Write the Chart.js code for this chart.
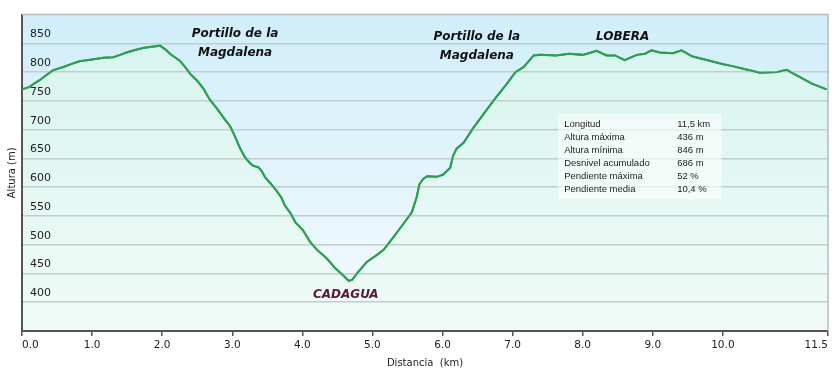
<!DOCTYPE html>
<html>
<head>
<meta charset="utf-8">
<script src="https://cdn.jsdelivr.net/npm/chart.js@4.4.1/dist/chart.umd.min.js"></script>
<style>
  html, body { margin: 0; padding: 0; background: #fff; }
</style>
</head>
<body>
<canvas id="perfil" width="836" height="372"></canvas>
<script>
// perfil de altura: distancia (km) / altura (m)
const distancias = [0.00, 0.10, 0.25, 0.35, 0.44, 0.59, 0.70, 0.82, 1.00, 1.16, 1.30, 1.40, 1.49, 1.60, 1.73, 1.85, 1.97,
  2.06, 2.11, 2.25, 2.32, 2.40, 2.50, 2.59, 2.68, 2.78, 2.88, 2.97, 3.04, 3.11, 3.18, 3.25, 3.30, 3.37, 3.42, 3.47,
  3.55, 3.63, 3.70, 3.75, 3.83, 3.90, 4.01, 4.11, 4.21, 4.35, 4.47, 4.56, 4.62, 4.66, 4.71, 4.80, 4.92, 5.06, 5.16,
  5.30, 5.44, 5.56, 5.63, 5.67, 5.72, 5.78, 5.92, 6.01, 6.11, 6.15, 6.20, 6.30, 6.44, 6.59, 6.73, 6.92, 7.04, 7.16,
  7.30, 7.40, 7.62, 7.81, 8.00, 8.12, 8.20, 8.34, 8.46, 8.60, 8.77, 8.89, 8.98, 9.10, 9.29, 9.41, 9.57, 9.77, 9.99,
  10.15, 10.29, 10.53, 10.77, 10.91, 11.06, 11.27, 11.48];
const alturas = [770, 774, 786, 795, 803, 809, 814, 819, 822, 825, 826, 830, 834, 838, 842, 844, 846,
  838, 832, 820, 810, 797, 785, 771, 752, 737, 720, 706, 688, 668, 652, 642, 637, 635, 628, 617,
  606, 594, 582, 568, 555, 539, 525, 505, 491, 476, 459, 449, 442, 437, 439, 453, 470, 482, 491,
  513, 536, 556, 582, 605, 614, 619, 618, 622, 634, 654, 667, 677, 703, 728, 751, 780, 800, 809,
  829, 830, 829, 832, 830, 834, 837, 829, 829, 821, 830, 832, 838, 834, 833, 838, 827, 821, 814,
  810, 806, 799, 800, 804, 794, 780, 770];

const xTicks = [0, 1, 2, 3, 4, 5, 6, 7, 8, 9, 10, 11.5];
const yTicks = [400, 450, 500, 550, 600, 650, 700, 750, 800, 850];

const estadNombres = ['Longitud', 'Altura máxima', 'Altura mínima', 'Desnivel acumulado', 'Pendiente máxima', 'Pendiente media'];
const estadValores = ['11,5 km', '436 m', '846 m', '686 m', '52 %', '10,4 %'];

// rotulos de lugares, anclados en km / m
const rotuloTextos = [['Portillo de la', 'Magdalena'], ['Portillo de la', 'Magdalena'], ['LOBERA'], ['CADAGUA']];
const rotuloKm = [3.04, 6.49, 8.57, 4.62];
const rotuloM = [867, 862, 861, 412];
const rotuloColor = ['#111', '#111', '#111', '#5a1838'];

const fondoPlugin = {
  id: 'fondo',
  beforeDraw(chart) {
    const { ctx, chartArea: a } = chart;
    const g = ctx.createLinearGradient(0, a.top, 0, a.bottom);
    g.addColorStop(0, '#d0eefa');
    g.addColorStop(1, '#f5fbfe');
    ctx.save();
    ctx.fillStyle = g;
    ctx.fillRect(a.left, a.top, a.right - a.left, a.bottom - a.top);
    ctx.restore();
  },
  afterDraw(chart) {
    const { ctx, chartArea: a, scales } = chart;
    const x = scales.x, y = scales.y;
    ctx.save();
    // la linea otra vez, por encima de la rejilla
    chart.getDatasetMeta(0).dataset.draw(ctx, a);

    // marco superior y derecho
    ctx.strokeStyle = '#b4bcbc';
    ctx.lineWidth = 1.5;
    ctx.beginPath();
    ctx.moveTo(a.left, a.top);
    ctx.lineTo(a.right, a.top);
    ctx.lineTo(a.right, a.bottom);
    ctx.stroke();

    // rotulos
    ctx.font = 'italic bold 12px "DejaVu Sans"';
    ctx.textAlign = 'center';
    ctx.textBaseline = 'middle';
    rotuloTextos.forEach((lineas, i) => {
      ctx.fillStyle = rotuloColor[i];
      const px = x.getPixelForValue(rotuloKm[i]);
      const py = y.getPixelForValue(rotuloM[i]);
      lineas.forEach((t, j) => ctx.fillText(t, px, py + j * 19));
    });

    // cuadro de datos
    const bx = x.getPixelForValue(7.65), by = y.getPixelForValue(727);
    const bw = x.getPixelForValue(9.98) - bx, bh = y.getPixelForValue(579) - by;
    ctx.fillStyle = 'rgba(255,255,255,0.6)';
    ctx.fillRect(bx, by, bw, bh);
    ctx.fillStyle = '#222';
    ctx.font = '9.5px "Liberation Sans"';
    ctx.textAlign = 'left';
    estadNombres.forEach((n, i) => {
      const ty = by + 10.5 + i * 12.9;
      ctx.fillText(n, bx + 6, ty);
      ctx.fillText(estadValores[i], bx + 119, ty);
    });
    ctx.restore();
  }
};

new Chart(document.getElementById('perfil'), {
  type: 'line',
  data: {
    datasets: [{
      data: distancias.map((d, i) => ({ x: d, y: alturas[i] })),
      borderColor: '#2f9e55',
      borderWidth: 2,
      pointRadius: 0,
      tension: 0,
      fill: 'start',
      backgroundColor: (c) => {
        const { ctx, chartArea } = c.chart;
        if (!chartArea) return '#e0f7f0';
        const g = ctx.createLinearGradient(0, chartArea.top, 0, chartArea.bottom);
        g.addColorStop(0, '#d6f4ee');
        g.addColorStop(1, '#f0fbf7');
        return g;
      }
    }]
  },
  options: {
    responsive: false,
    animation: false,
    devicePixelRatio: 1,
    layout: { padding: { top: 10, right: 8, left: 0, bottom: 0 } },
    plugins: { legend: { display: false }, tooltip: { enabled: false } },
    scales: {
      x: {
        type: 'linear',
        min: 0,
        max: 11.5,
        afterBuildTicks: (s) => { s.ticks = xTicks.map(v => ({ value: v })); },
        afterFit: (s) => { s.height = 41; },
        ticks: {
          align: 'inner',
          padding: 3,
          color: '#222',
          font: { family: 'DejaVu Sans', size: 10.5 },
          callback: (v) => Number(v).toFixed(1)
        },
        grid: { display: true, drawOnChartArea: false, drawTicks: true, tickLength: 5, color: '#555', lineWidth: 1.5, z: 1 },
        border: { display: true, color: '#555', width: 2, z: 1 },
        title: { display: true, text: 'Distancia  (km)', color: '#222', font: { family: 'DejaVu Sans', size: 10 }, padding: { top: 3, bottom: 3 } }
      },
      y: {
        min: 350,
        max: 900,
        afterBuildTicks: (s) => { s.ticks = yTicks.map(v => ({ value: v })); },
        afterFit: (s) => { s.width = 22; },
        ticks: {
          mirror: true,
          padding: 8,
          labelOffset: -9,
          color: '#222',
          font: { family: 'DejaVu Sans', size: 11 },
          z: 1
        },
        grid: { color: '#c2cdcd', lineWidth: 1.5, drawTicks: false, z: 1 },
        border: { display: true, color: '#555', width: 2, z: 1 },
        title: { display: true, text: 'Altura (m)', color: '#222', font: { family: 'DejaVu Sans', size: 10 }, padding: { top: 6, bottom: 4 } }
      }
    }
  },
  plugins: [fondoPlugin]
});
</script>
</body>
</html>
